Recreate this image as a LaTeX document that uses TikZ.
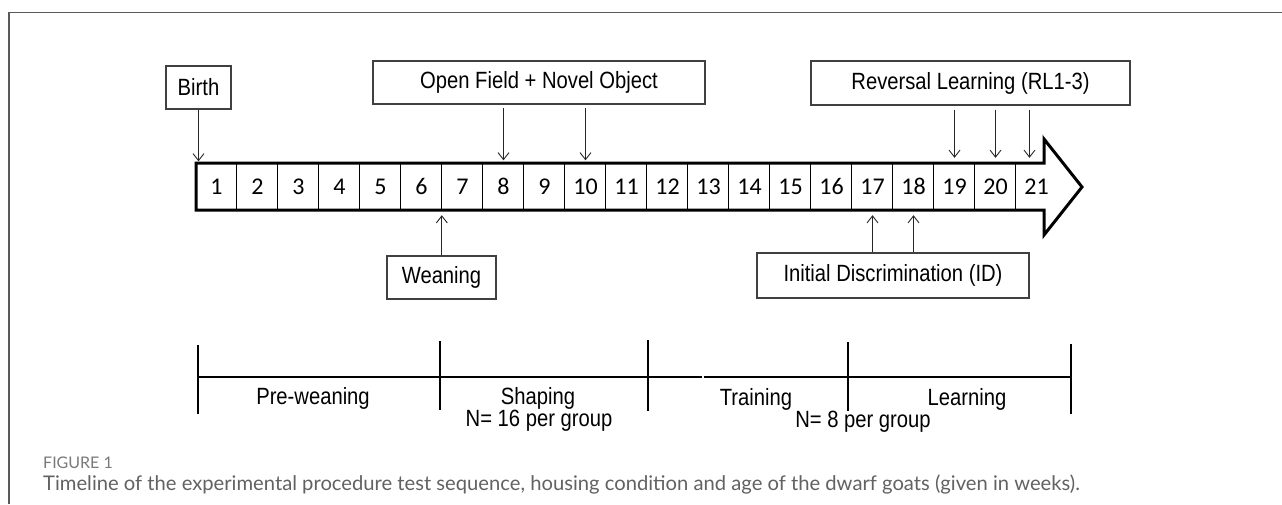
\documentclass[tikz,border=0pt]{standalone}
\usepackage{fontspec}
\setmainfont{Liberation Sans}
\newfontfamily\lblfont[FakeStretch=0.86]{Liberation Sans}
\newfontfamily\numfont{Carlito}
\newfontfamily\capfont{Lato}
\usetikzlibrary{arrows.meta}
\definecolor{framegray}{HTML}{5A5A5A}
\definecolor{capgray}{HTML}{626262}
\definecolor{figgray}{HTML}{7A7A7A}
\definecolor{boxgray}{HTML}{404040}
\tikzset{
  lbl/.style={font=\lblfont\fontsize{23.5}{26}\selectfont, inner sep=0pt},
  evbox/.style={draw=boxgray, line width=1.2pt, inner sep=0pt, font=\lblfont\fontsize{23.5}{26}\selectfont},
  cell/.style={minimum width=41pt, minimum height=47pt, inner sep=0pt, font=\numfont\fontsize{24}{26}\selectfont},
  evarr/.style={-{Straight Barb[length=7pt,width=11pt]}, line width=0.9pt, draw=black!85},
  tickmark/.style={line width=2.6pt},
}
\begin{document}
\begin{tikzpicture}[x=1pt,y=-1pt]
\useasboundingbox (0,0) rectangle (1282,504);
\fill[white] (0,0) rectangle (1282,504);
\draw[framegray, line width=1.5pt] (9,504) -- (9,12.5) -- (1282,12.5);

% timeline bar
\draw[line width=3pt, line join=miter] (196,163) -- (1044,163) -- (1044,139) -- (1082,187) -- (1044,235) -- (1044,210) -- (196,210) -- cycle;
\foreach \i in {1,...,21} \node[cell] (c\i) at ({196+41*(\i-1)+20.5},186.5) {\i};
\foreach \i in {2,...,21} \draw[line width=0.8pt] (c\i.north west) -- (c\i.south west);

% event boxes
\node[evbox, minimum width=65pt, minimum height=43pt] (birth) at (198.5,87.5) {Birth};
\node[evbox, minimum width=332pt, minimum height=43pt] (of) at (539,82.5) {Open Field + Novel Object};
\node[evbox, minimum width=319pt, minimum height=44pt] (rl) at (970.5,83) {Reversal Learning (RL1-3)};
\node[evbox, minimum width=109pt, minimum height=43pt] (wean) at (441.5,277.5) {Weaning};
\node[evbox, minimum width=272pt, minimum height=45pt] (id) at (893,275.5) {Initial Discrimination (ID)};

% event arrows
\coordinate (r21) at ([xshift=-7pt]c21.north);
\draw[evarr, shorten >=1.5pt] (birth.south) -- (birth.south |- c1.north);
\draw[evarr, shorten <=3pt, shorten >=2.5pt] (of.south -| c8) -- (c8.north);
\draw[evarr, shorten <=3pt, shorten >=2.5pt] (of.south -| c10) -- (c10.north);
\draw[evarr, shorten <=4pt, shorten >=5pt] (rl.south -| c19) -- (c19.north);
\draw[evarr, shorten <=4pt, shorten >=5pt] (rl.south -| c20) -- (c20.north);
\draw[evarr, shorten <=4pt, shorten >=5pt] (rl.south -| r21) -- (r21);
\draw[evarr, shorten >=5pt] (wean.north -| c7.south west) -- (c7.south west);
\draw[evarr, shorten >=5pt] (id.north -| c17) -- (c17.south);
\draw[evarr, shorten >=5pt] (id.north -| c18) -- (c18.south);

% phase timeline
\coordinate (t0) at (198,377);
\coordinate (t1) at (440,377);
\coordinate (t2) at (648,377);
\coordinate (t3) at (848,377);
\coordinate (t4) at (1071,377);
\coordinate (gapL) at (702,377);
\coordinate (gapR) at (704,377);
\draw[line width=2.4pt] (t0) -- (gapL);
\draw[line width=2.4pt] (gapR) -- (t4);
\draw[tickmark] ([yshift=32pt]t0) -- ([yshift=-37pt]t0);
\draw[tickmark] ([yshift=36pt]t1) -- ([yshift=-33pt]t1);
\draw[tickmark] ([yshift=37pt]t2) -- ([yshift=-34pt]t2);
\draw[tickmark] ([yshift=35pt]t3) -- ([yshift=-34pt]t3);
\draw[tickmark] ([yshift=33pt]t4) -- ([yshift=-37pt]t4);

\node[lbl] (pre) at (313,398) {Pre-weaning};
\node[lbl] (shp) at (538,398) {Shaping};
\node[lbl] (n16) at (539,421) {N= 16 per group};
\node[lbl] (trn) at (756,399) {Training};
\node[lbl] (lrn) at (967,399) {Learning};
\node[lbl] (n8) at (863,422) {N= 8 per group};

% caption
\node[anchor=west, inner sep=0pt, font=\capfont\fontsize{16}{18}\selectfont, text=figgray] (fig) at (43,463) {FIGURE 1};
\node[anchor=west, inner sep=0pt, font=\capfont\fontsize{20.2}{23}\selectfont, text=capgray] (cap) at (43,485) {Timeline of the experimental procedure test sequence, housing condition and age of the dwarf goats (given in weeks).};
\end{tikzpicture}
\end{document}
